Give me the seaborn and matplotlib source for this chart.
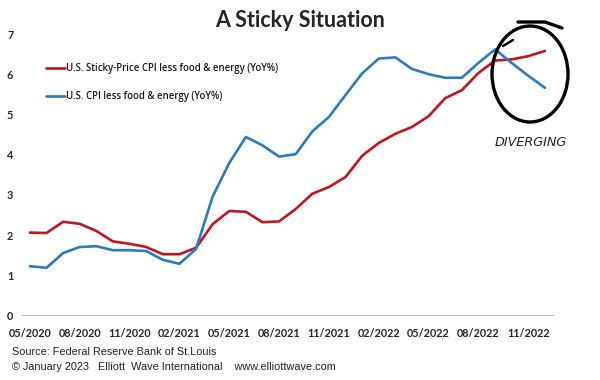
import numpy as np
import pandas as pd
import matplotlib
matplotlib.use("Agg")
import matplotlib.pyplot as plt
import seaborn as sns
from matplotlib.patches import Ellipse
from matplotlib.lines import Line2D

# monthly data, 05/2020 .. 12/2022
months = pd.date_range("2020-05-01", periods=32, freq="MS").strftime("%m/%Y").tolist()
sticky_cpi = [2.06, 2.05, 2.33, 2.28, 2.10, 1.84, 1.78, 1.70, 1.52, 1.52, 1.68, 2.27,
              2.60, 2.58, 2.32, 2.34, 2.65, 3.03, 3.20, 3.45, 3.98, 4.30, 4.53, 4.70,
              4.97, 5.42, 5.62, 6.05, 6.36, 6.39, 6.47, 6.60]
core_cpi = [1.22, 1.18, 1.55, 1.70, 1.72, 1.62, 1.62, 1.60, 1.38, 1.28, 1.65, 2.96,
            3.80, 4.45, 4.24, 3.96, 4.02, 4.59, 4.95, 5.50, 6.04, 6.41, 6.44, 6.15,
            6.02, 5.93, 5.93, 6.30, 6.64, 6.30, 5.98, 5.68]
series_names = ["U.S. Sticky-Price CPI less food & energy (YoY%)",
                "U.S. CPI less food & energy (YoY%)"]
colors = ["#C0161C", "#2B7BBE"]
tick_idx = list(range(0, 32, 3))

sns.set_style("white")
plt.rcParams["font.family"] = ["Lato", "DejaVu Sans"]

df = pd.DataFrame({"idx": np.arange(len(months)),
                   series_names[0]: sticky_cpi,
                   series_names[1]: core_cpi})
long_df = df.melt(id_vars="idx", var_name="series", value_name="value")

fig = plt.figure(figsize=(6, 3.8), dpi=100)
ax = fig.add_axes([0.036, 0.171, 0.886, 0.737])

sns.lineplot(data=long_df, x="idx", y="value", hue="series",
             palette=colors, linewidth=1.9, ax=ax, legend=False)

ax.set_xlim(-0.5, 31.5)
ax.set_ylim(0, 7)
ax.set_xlabel("")
ax.set_ylabel("")

ax.set_xticks(tick_idx)
ax.set_xticklabels([months[i] for i in tick_idx], fontsize=7.8, fontweight="bold")
ax.set_xticks([i - 0.5 for i in tick_idx], minor=True)
ax.tick_params(axis="x", which="major", length=0, pad=9)
ax.tick_params(axis="x", which="minor", length=4, color="#BFBFBF", width=0.8)
ax.set_yticks(range(0, 8))
ax.tick_params(axis="y", length=0, labelsize=7.8, pad=6)
for lbl in ax.get_yticklabels():
    lbl.set_fontweight("bold")

for s in ["top", "right", "left"]:
    ax.spines[s].set_visible(False)
ax.spines["bottom"].set_color("#BFBFBF")
ax.spines["bottom"].set_linewidth(0.8)

handles = [Line2D([0], [0], color=c, lw=1.9) for c in colors]
leg = ax.legend(handles, series_names, loc="upper left", bbox_to_anchor=(0.03, 0.93),
                frameon=False, handlelength=2.0, handletextpad=0.1,
                labelspacing=1.75, prop={"family": "Open Sans", "weight": "semibold", "size": 6.9})
for t in leg.get_texts():
    t.set_color("#1a1a1a")

fig.text(0.5, 0.945, "A Sticky Situation", ha="center", va="center",
         fontsize=15.5, fontweight="bold")

fig.text(0.02, 0.073, "Source: Federal Reserve Bank of St.Louis", fontsize=7.8,
         family="Liberation Sans", color="#222222", va="center")
fig.text(0.02, 0.033, "\u00a9 January 2023   Elliott  Wave International    www.elliottwave.com",
         fontsize=7.8, family="Liberation Sans", color="#222222", va="center")

# hand drawn circle around the divergence
def fpx(x, y):
    return (x / 600, 1 - y / 380)

circ = Ellipse(fpx(530, 74), 76 / 600, 96 / 380, transform=fig.transFigure,
               fill=False, lw=2.4, ec="black")
fig.patches.append(circ)
fig.add_artist(Line2D([518 / 600, 545 / 600, 562 / 600], [1 - 22 / 380, 1 - 22 / 380, 1 - 28 / 380],
                      color="black", lw=2.4, transform=fig.transFigure))
fig.add_artist(Line2D([503 / 600, 513 / 600], [1 - 46 / 380, 1 - 40 / 380],
                      color="black", lw=1.8, transform=fig.transFigure))
fig.text(*fpx(531, 143), "DIVERGING", ha="center", va="center", fontsize=9.2,
         style="italic", family="DejaVu Sans", color="#222222")

fig.savefig("out.png", dpi=100)
